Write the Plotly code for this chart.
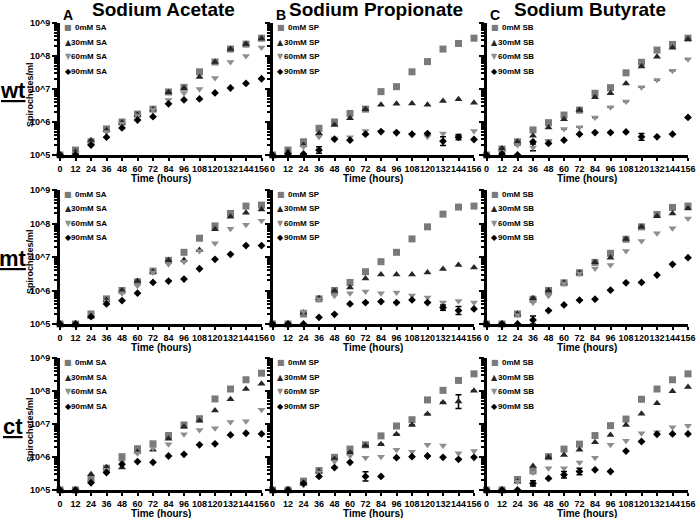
import plotly.graph_objects as go

# ---------------- data (log10 spirochetes/ml) ----------------
hours = [0, 12, 24, 36, 48, 60, 72, 84, 96, 108, 120, 132, 144, 156]
hour_ticks = [str(h) for h in hours]
y_tick_vals = [1e5, 1e6, 1e7, 1e8, 1e9]
y_tick_text = ["10^5", "10^6", "10^7", "10^8", "10^9"]

conc_labels = ["0mM", "30mM", "60mM", "90mM"]
compound_titles = ["Sodium Acetate", "Sodium Propionate", "Sodium Butyrate"]
compound_abbr = ["SA", "SP", "SB"]
panel_letters = ["A", "B", "C"]
strain_labels = ["wt", "mt", "ct"]

# wt
wt_SA_0 = [5.0, 5.15, 5.40, 5.79, 6.00, 6.24, 6.39, 6.91, 7.05, 7.52, 7.82, 8.21, 8.36, 8.54]
wt_SA_30 = [5.0, 5.10, 5.45, 5.75, 5.98, 6.22, 6.38, 6.90, 7.02, 7.36, 7.82, 8.21, 8.36, 8.53]
wt_SA_60 = [5.0, 5.05, 5.35, 5.70, 5.95, 6.20, 6.37, 6.67, 6.88, 7.00, 7.33, 7.82, 8.00, 8.26]
wt_SA_90 = [5.0, 5.00, 5.30, 5.54, 5.82, 6.06, 6.16, 6.55, 6.67, 6.70, 6.88, 7.03, 7.17, 7.31]

wt_SP_0 = [5.0, 5.15, 5.40, 5.81, 6.00, 6.26, 6.39, 6.92, 7.07, 7.52, 7.83, 8.21, 8.38, 8.54]
wt_SP_30 = [5.0, 5.10, 5.30, 5.66, 5.91, 6.11, 6.39, 6.52, 6.55, 6.56, 6.52, 6.64, 6.69, 6.58]
wt_SP_60 = [5.0, 5.05, 5.25, 5.55, 5.50, 5.54, 5.73, 5.70, 5.65, 5.61, 5.55, 5.65, 5.55, 5.73]
wt_SP_90 = [5.0, 5.03, 5.03, 5.15, 5.48, 5.45, 5.63, 5.71, 5.68, 5.63, 5.65, 5.42, 5.54, 5.47]

wt_SB_0 = [5.0, 5.18, 5.40, 5.76, 5.98, 6.21, 6.36, 6.87, 7.04, 7.49, 7.81, 8.18, 8.35, 8.54]
wt_SB_30 = [5.0, 5.20, 5.40, 5.58, 5.83, 6.08, 6.36, 6.75, 6.87, 7.17, 7.68, 7.98, 8.25, 8.51]
wt_SB_60 = [5.0, 5.10, 5.30, 5.23, 5.43, 5.79, 5.84, 6.14, 6.45, 6.62, 7.05, 7.27, 7.55, 7.90]
wt_SB_90 = [5.0, 5.03, 5.00, 5.40, 5.35, 5.45, 5.63, 5.68, 5.68, 5.70, 5.55, 5.55, 5.63, 6.14]

# mt
mt_SA_0 = [5.0, 5.0, 5.30, 5.75, 6.00, 6.26, 6.58, 6.90, 7.14, 7.56, 7.93, 8.30, 8.52, 8.55]
mt_SA_30 = [5.0, 5.0, 5.22, 5.72, 6.00, 6.28, 6.56, 6.90, 6.91, 7.21, 7.83, 8.20, 8.32, 8.42]
mt_SA_60 = [5.0, 5.0, 5.27, 5.67, 5.92, 6.14, 6.54, 6.78, 6.86, 7.18, 7.41, 7.84, 7.96, 8.08]
mt_SA_90 = [5.0, 5.0, 5.22, 5.60, 5.70, 5.92, 6.24, 6.28, 6.34, 6.65, 6.93, 7.08, 7.34, 7.34]

mt_SP_0 = [5.0, 5.0, 5.30, 5.75, 6.00, 6.24, 6.56, 6.86, 7.14, 7.54, 7.90, 8.28, 8.49, 8.52]
mt_SP_30 = [5.0, 5.0, 5.34, 5.77, 5.99, 6.09, 6.36, 6.48, 6.48, 6.48, 6.54, 6.64, 6.76, 6.69]
mt_SP_60 = [5.0, 5.0, 5.37, 5.74, 5.84, 5.92, 5.97, 5.92, 5.94, 5.85, 5.79, 5.64, 5.69, 5.64]
mt_SP_90 = [5.0, 5.0, 5.00, 5.20, 5.29, 5.60, 5.64, 5.67, 5.64, 5.72, 5.64, 5.49, 5.40, 5.45]

mt_SB_0 = [5.0, 5.0, 5.30, 5.74, 6.00, 6.23, 6.53, 6.84, 7.11, 7.53, 7.90, 8.27, 8.48, 8.52]
mt_SB_30 = [5.0, 5.0, 5.30, 5.77, 6.00, 6.23, 6.53, 6.84, 6.98, 7.54, 7.90, 8.22, 8.30, 8.45]
mt_SB_60 = [5.0, 5.0, 5.27, 5.64, 5.84, 6.21, 6.51, 6.66, 6.76, 7.18, 7.48, 7.71, 7.86, 8.15]
mt_SB_90 = [5.0, 5.0, 5.00, 5.12, 5.40, 5.57, 5.71, 5.74, 6.01, 6.23, 6.24, 6.46, 6.78, 6.98]

# ct
ct_SA_0 = [5.0, 5.0, 5.35, 5.66, 6.01, 6.25, 6.40, 6.65, 6.97, 7.16, 7.76, 8.06, 8.34, 8.54]
ct_SA_30 = [5.0, 5.0, 5.48, 5.69, 5.68, 6.16, 6.22, 6.55, 6.92, 7.10, 7.41, 7.75, 8.06, 8.22]
ct_SA_60 = [5.0, 5.0, 5.25, 5.61, 5.86, 6.11, 6.27, 6.39, 6.69, 6.82, 6.87, 7.06, 7.08, 7.43]
ct_SA_90 = [5.0, 5.0, 5.22, 5.53, 5.78, 5.86, 5.84, 6.03, 6.08, 6.37, 6.40, 6.67, 6.72, 6.70]

ct_SP_0 = [5.0, 5.0, 5.27, 5.59, 5.99, 6.24, 6.37, 6.64, 6.94, 7.13, 7.73, 8.02, 8.32, 8.52]
ct_SP_30 = [5.0, 5.0, 5.18, 5.56, 5.94, 6.14, 6.34, 6.39, 6.69, 6.97, 7.30, 7.65, 7.68, 8.01]
ct_SP_60 = [5.0, 5.0, 5.15, 5.54, 5.86, 6.04, 5.98, 6.01, 6.22, 6.16, 6.37, 6.35, 6.11, 6.18]
ct_SP_90 = [5.0, 5.0, 5.20, 5.41, 5.68, 5.84, 5.41, 5.41, 5.98, 6.01, 6.03, 5.99, 5.93, 5.99]

ct_SB_0 = [5.0, 5.0, 5.32, 5.58, 6.01, 6.24, 6.39, 6.65, 6.95, 7.15, 7.75, 8.06, 8.34, 8.52]
ct_SB_30 = [5.0, 5.0, 5.25, 5.73, 5.99, 6.06, 6.22, 6.45, 6.67, 6.97, 7.31, 7.63, 7.99, 8.12]
ct_SB_60 = [5.0, 5.0, 5.25, 5.53, 5.66, 5.66, 5.83, 5.98, 6.37, 6.49, 6.72, 6.75, 6.90, 6.95]
ct_SB_90 = [5.0, 5.0, 5.00, 5.20, 5.35, 5.46, 5.56, 5.61, 5.56, 6.18, 6.47, 6.69, 6.70, 6.70]

# visible error bars (+/- in log10 decades); all other points have bars hidden by markers
wt_SP_90_err = [0, 0, 0, 0.10, 0, 0, 0, 0, 0, 0, 0, 0.13, 0.08, 0]
wt_SB_60_err = [0, 0, 0, 0.10, 0, 0, 0, 0, 0, 0, 0, 0, 0, 0]
wt_SB_90_err = [0, 0, 0, 0, 0, 0, 0, 0, 0, 0, 0.10, 0, 0, 0]
mt_SP_90_err = [0, 0, 0, 0, 0, 0, 0, 0, 0, 0, 0, 0.08, 0.12, 0]
mt_SB_90_err = [0, 0, 0, 0.12, 0, 0, 0, 0, 0, 0, 0, 0, 0, 0]
ct_SP_30_err = [0, 0, 0, 0, 0, 0, 0, 0, 0, 0, 0, 0, 0.21, 0]
ct_SP_90_err = [0, 0, 0, 0, 0, 0, 0.14, 0, 0, 0, 0, 0, 0, 0]
ct_SB_90_err = [0, 0, 0, 0.08, 0, 0.10, 0.10, 0, 0, 0, 0, 0, 0, 0]

panels = [
    [[wt_SA_0, wt_SA_30, wt_SA_60, wt_SA_90],
     [wt_SP_0, wt_SP_30, wt_SP_60, wt_SP_90],
     [wt_SB_0, wt_SB_30, wt_SB_60, wt_SB_90]],
    [[mt_SA_0, mt_SA_30, mt_SA_60, mt_SA_90],
     [mt_SP_0, mt_SP_30, mt_SP_60, mt_SP_90],
     [mt_SB_0, mt_SB_30, mt_SB_60, mt_SB_90]],
    [[ct_SA_0, ct_SA_30, ct_SA_60, ct_SA_90],
     [ct_SP_0, ct_SP_30, ct_SP_60, ct_SP_90],
     [ct_SB_0, ct_SB_30, ct_SB_60, ct_SB_90]],
]
errors = {
    (0, 1, 3): wt_SP_90_err, (0, 2, 2): wt_SB_60_err, (0, 2, 3): wt_SB_90_err,
    (1, 1, 3): mt_SP_90_err, (1, 2, 3): mt_SB_90_err,
    (2, 1, 1): ct_SP_30_err, (2, 1, 3): ct_SP_90_err, (2, 2, 3): ct_SB_90_err,
}

# ---------------- styling ----------------
W, H = 696, 518
FONT = "Liberation Sans, Arial, Helvetica, sans-serif"
symbols = ["square", "triangle-up", "triangle-down", "diamond"]
glyphs = ["\u25A0", "\u25B2", "\u25BC", "\u25C6"]
colors = ["#7a7a7a", "#262626", "#8e8e8e", "#000000"]
sizes = [7, 7, 7, 6]

x_px = [(60, 261.5), (272.5, 474), (486.5, 688)]
y_px = [(23, 155), (190, 324), (358, 490)]

fig = go.Figure()
layout_axes = {}
annotations = []

for r in range(3):
    for c in range(3):
        n = r * 3 + c + 1
        xa = "x" if n == 1 else f"x{n}"
        ya = "y" if n == 1 else f"y{n}"
        for k in range(4):
            vals = panels[r][c][k]
            yv = [10 ** v for v in vals]
            err = errors.get((r, c, k))
            ebar = None
            if err is not None:
                ebar = dict(
                    type="data", symmetric=False,
                    array=[10 ** (v + e) - 10 ** v for v, e in zip(vals, err)],
                    arrayminus=[10 ** v - 10 ** (v - e) for v, e in zip(vals, err)],
                    color="black", thickness=1.5, width=3,
                )
            fig.add_trace(go.Scatter(
                x=hours, y=yv, error_y=ebar,
                mode="markers", xaxis=xa, yaxis=ya, showlegend=False,
                cliponaxis=False,
                marker=dict(symbol=symbols[k], color=colors[k], size=sizes[k], line=dict(width=0)),
            ))
        xd = [x_px[c][0] / W, x_px[c][1] / W]
        yd = [1 - y_px[r][1] / H, 1 - y_px[r][0] / H]
        layout_axes["xaxis" if n == 1 else f"xaxis{n}"] = dict(
            domain=xd, anchor=ya, range=[0, 156], tickmode="array",
            tickvals=hours, ticktext=hour_ticks, tickangle=0,
            ticks="outside", ticklen=3, tickwidth=2, tickcolor="black",
            showline=True, linewidth=2.5, linecolor="black",
            showgrid=False, zeroline=False, automargin=False,
            tickfont=dict(family=FONT, size=9, color="black", weight="bold"),
        )
        layout_axes["yaxis" if n == 1 else f"yaxis{n}"] = dict(
            domain=yd, anchor=xa, type="log", range=[5, 9], tickmode="array",
            tickvals=y_tick_vals, ticktext=y_tick_text, showticklabels=(c == 0),
            ticks="outside", ticklen=5, tickwidth=2, tickcolor="black",
            showline=True, linewidth=3, linecolor="black",
            showgrid=False, zeroline=False, automargin=False,
            tickfont=dict(family=FONT, size=9, color="black", weight="bold"),
            minor=dict(ticks="outside", ticklen=3, tickwidth=1.5, tickcolor="black",
                       dtick="D1", showgrid=False),
        )
        # x-axis title
        annotations.append(dict(
            xref=f"{xa} domain", yref="paper", x=0.5, y=1 - (y_px[r][1] + 23) / H,
            xanchor="center", yanchor="middle", text="Time (hours)", showarrow=False,
            font=dict(family=FONT, size=10, color="black", weight="bold"),
        ))
        # inline legend
        for k in range(4):
            annotations.append(dict(
                xref=f"{xa} domain", yref=f"{ya} domain", x=0, y=1,
                xshift=8, yshift=-4.5 - 14.5 * k, xanchor="center", yanchor="middle",
                text=glyphs[k], showarrow=False,
                font=dict(family="DejaVu Sans", size=8, color=colors[k]),
            ))
            annotations.append(dict(
                xref=f"{xa} domain", yref=f"{ya} domain", x=0, y=1,
                xshift=49, yshift=-4.5 - 14.5 * k, xanchor="right", yanchor="middle",
                text=f"{conc_labels[k]} {compound_abbr[c]}", showarrow=False,
                font=dict(family=FONT, size=8, color="black", weight="bold"),
            ))
    # row label + y title
    annotations.append(dict(
        xref="paper", yref="paper", x=13 / W, y=1 - (y_px[r][0] + 68) / H,
        xanchor="center", yanchor="middle", text=f"<u>{strain_labels[r]}</u>",
        showarrow=False, font=dict(family=FONT, size=22, color="black", weight="bold"),
    ))
    annotations.append(dict(
        xref="paper", yref="paper", x=30 / W, y=1 - (y_px[r][0] + 72) / H,
        xanchor="center", yanchor="middle", text="Spirochetes/ml", textangle=-90,
        showarrow=False, font=dict(family=FONT, size=9, color="black", weight="bold"),
    ))

for c in range(3):
    xa = "x" if c == 0 else f"x{c + 1}"
    annotations.append(dict(
        xref=f"{xa} domain", yref="paper", x=0.5, y=1 - 10 / H, xshift=3,
        xanchor="center", yanchor="middle", text=compound_titles[c], showarrow=False,
        font=dict(family=FONT, size=19, color="black", weight="bold"),
    ))
    annotations.append(dict(
        xref=f"{xa} domain", yref="paper", x=0, y=1 - 15 / H, xshift=8,
        xanchor="center", yanchor="middle", text=panel_letters[c], showarrow=False,
        font=dict(family=FONT, size=14, color="black", weight="bold"),
    ))

fig.update_layout(
    width=W, height=H, margin=dict(l=0, r=0, t=0, b=0),
    paper_bgcolor="white", plot_bgcolor="white",
    font=dict(family=FONT, color="black"),
    annotations=annotations, **layout_axes,
)

fig.write_html(
    "out.html",
    config={"displayModeBar": False},
    post_script="document.body.style.margin='0px';document.body.style.overflow='hidden';",
)
